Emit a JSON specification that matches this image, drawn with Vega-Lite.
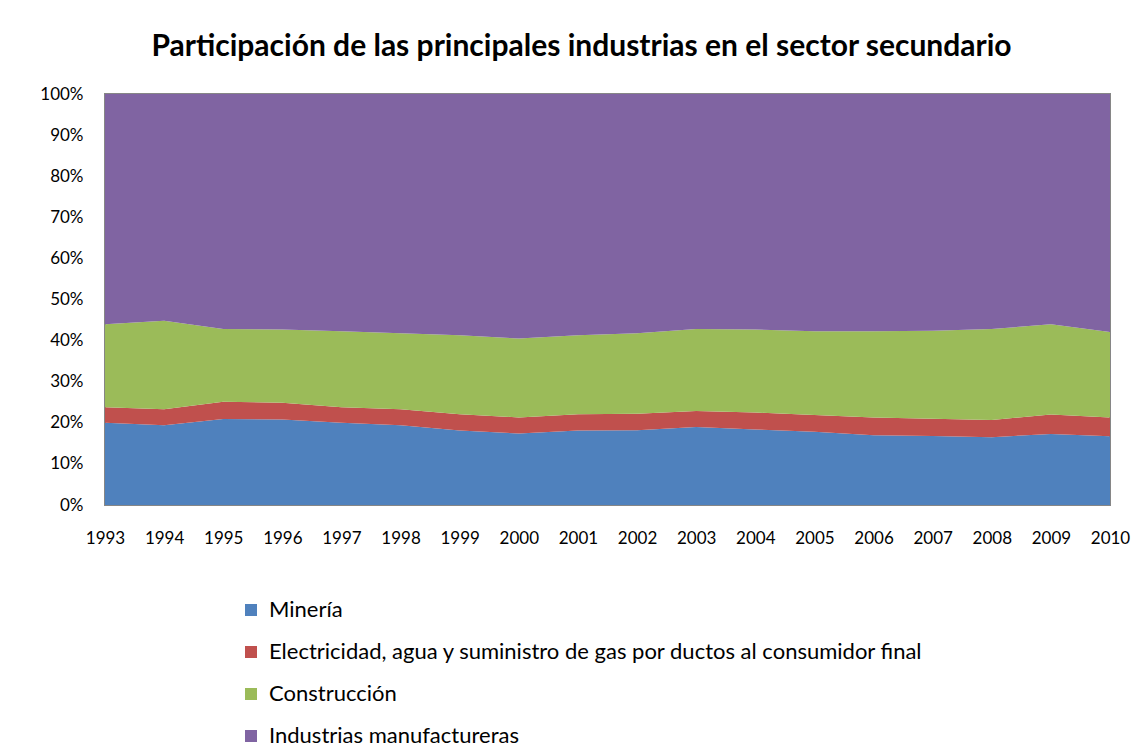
{
  "$schema": "https://vega.github.io/schema/vega-lite/v6.json",
  "autosize": {"type": "none"},
  "width": 1005,
  "height": 411,
  "padding": {"left": 105, "top": 94, "right": 32, "bottom": 247},
  "background": "white",
  "title": {
    "text": "Participación de las principales industrias en el sector secundario",
    "font": "Lato",
    "fontSize": 30,
    "fontWeight": "bold",
    "color": "#000000",
    "anchor": "middle",
    "dx": -26,
    "offset": 23
  },
  "config": {
    "view": {"stroke": "#868686", "strokeWidth": 2},
    "font": "Lato"
  },
  "data": {
    "values": [
      {"year": 1993, "sector": "Minería", "orden": 1, "valor": 20.0},
      {"year": 1993, "sector": "Electricidad, agua y suministro de gas por ductos al consumidor final", "orden": 2, "valor": 3.8},
      {"year": 1993, "sector": "Construcción", "orden": 3, "valor": 20.2},
      {"year": 1993, "sector": "Industrias manufactureras", "orden": 4, "valor": 56.0},
      {"year": 1994, "sector": "Minería", "orden": 1, "valor": 19.4},
      {"year": 1994, "sector": "Electricidad, agua y suministro de gas por ductos al consumidor final", "orden": 2, "valor": 3.9},
      {"year": 1994, "sector": "Construcción", "orden": 3, "valor": 21.5},
      {"year": 1994, "sector": "Industrias manufactureras", "orden": 4, "valor": 55.2},
      {"year": 1995, "sector": "Minería", "orden": 1, "valor": 20.9},
      {"year": 1995, "sector": "Electricidad, agua y suministro de gas por ductos al consumidor final", "orden": 2, "valor": 4.2},
      {"year": 1995, "sector": "Construcción", "orden": 3, "valor": 17.7},
      {"year": 1995, "sector": "Industrias manufactureras", "orden": 4, "valor": 57.2},
      {"year": 1996, "sector": "Minería", "orden": 1, "valor": 20.8},
      {"year": 1996, "sector": "Electricidad, agua y suministro de gas por ductos al consumidor final", "orden": 2, "valor": 4.1},
      {"year": 1996, "sector": "Construcción", "orden": 3, "valor": 17.8},
      {"year": 1996, "sector": "Industrias manufactureras", "orden": 4, "valor": 57.3},
      {"year": 1997, "sector": "Minería", "orden": 1, "valor": 20.0},
      {"year": 1997, "sector": "Electricidad, agua y suministro de gas por ductos al consumidor final", "orden": 2, "valor": 3.8},
      {"year": 1997, "sector": "Construcción", "orden": 3, "valor": 18.5},
      {"year": 1997, "sector": "Industrias manufactureras", "orden": 4, "valor": 57.7},
      {"year": 1998, "sector": "Minería", "orden": 1, "valor": 19.4},
      {"year": 1998, "sector": "Electricidad, agua y suministro de gas por ductos al consumidor final", "orden": 2, "valor": 3.9},
      {"year": 1998, "sector": "Construcción", "orden": 3, "valor": 18.5},
      {"year": 1998, "sector": "Industrias manufactureras", "orden": 4, "valor": 58.2},
      {"year": 1999, "sector": "Minería", "orden": 1, "valor": 18.1},
      {"year": 1999, "sector": "Electricidad, agua y suministro de gas por ductos al consumidor final", "orden": 2, "valor": 4.0},
      {"year": 1999, "sector": "Construcción", "orden": 3, "valor": 19.2},
      {"year": 1999, "sector": "Industrias manufactureras", "orden": 4, "valor": 58.7},
      {"year": 2000, "sector": "Minería", "orden": 1, "valor": 17.4},
      {"year": 2000, "sector": "Electricidad, agua y suministro de gas por ductos al consumidor final", "orden": 2, "valor": 3.9},
      {"year": 2000, "sector": "Construcción", "orden": 3, "valor": 19.2},
      {"year": 2000, "sector": "Industrias manufactureras", "orden": 4, "valor": 59.5},
      {"year": 2001, "sector": "Minería", "orden": 1, "valor": 18.1},
      {"year": 2001, "sector": "Electricidad, agua y suministro de gas por ductos al consumidor final", "orden": 2, "valor": 4.0},
      {"year": 2001, "sector": "Construcción", "orden": 3, "valor": 19.2},
      {"year": 2001, "sector": "Industrias manufactureras", "orden": 4, "valor": 58.7},
      {"year": 2002, "sector": "Minería", "orden": 1, "valor": 18.2},
      {"year": 2002, "sector": "Electricidad, agua y suministro de gas por ductos al consumidor final", "orden": 2, "valor": 4.0},
      {"year": 2002, "sector": "Construcción", "orden": 3, "valor": 19.6},
      {"year": 2002, "sector": "Industrias manufactureras", "orden": 4, "valor": 58.2},
      {"year": 2003, "sector": "Minería", "orden": 1, "valor": 19.0},
      {"year": 2003, "sector": "Electricidad, agua y suministro de gas por ductos al consumidor final", "orden": 2, "valor": 3.9},
      {"year": 2003, "sector": "Construcción", "orden": 3, "valor": 19.9},
      {"year": 2003, "sector": "Industrias manufactureras", "orden": 4, "valor": 57.2},
      {"year": 2004, "sector": "Minería", "orden": 1, "valor": 18.4},
      {"year": 2004, "sector": "Electricidad, agua y suministro de gas por ductos al consumidor final", "orden": 2, "valor": 4.1},
      {"year": 2004, "sector": "Construcción", "orden": 3, "valor": 20.2},
      {"year": 2004, "sector": "Industrias manufactureras", "orden": 4, "valor": 57.3},
      {"year": 2005, "sector": "Minería", "orden": 1, "valor": 17.8},
      {"year": 2005, "sector": "Electricidad, agua y suministro de gas por ductos al consumidor final", "orden": 2, "valor": 4.1},
      {"year": 2005, "sector": "Construcción", "orden": 3, "valor": 20.4},
      {"year": 2005, "sector": "Industrias manufactureras", "orden": 4, "valor": 57.7},
      {"year": 2006, "sector": "Minería", "orden": 1, "valor": 17.0},
      {"year": 2006, "sector": "Electricidad, agua y suministro de gas por ductos al consumidor final", "orden": 2, "valor": 4.3},
      {"year": 2006, "sector": "Construcción", "orden": 3, "valor": 21.0},
      {"year": 2006, "sector": "Industrias manufactureras", "orden": 4, "valor": 57.7},
      {"year": 2007, "sector": "Minería", "orden": 1, "valor": 16.8},
      {"year": 2007, "sector": "Electricidad, agua y suministro de gas por ductos al consumidor final", "orden": 2, "valor": 4.2},
      {"year": 2007, "sector": "Construcción", "orden": 3, "valor": 21.4},
      {"year": 2007, "sector": "Industrias manufactureras", "orden": 4, "valor": 57.6},
      {"year": 2008, "sector": "Minería", "orden": 1, "valor": 16.5},
      {"year": 2008, "sector": "Electricidad, agua y suministro de gas por ductos al consumidor final", "orden": 2, "valor": 4.2},
      {"year": 2008, "sector": "Construcción", "orden": 3, "valor": 22.1},
      {"year": 2008, "sector": "Industrias manufactureras", "orden": 4, "valor": 57.2},
      {"year": 2009, "sector": "Minería", "orden": 1, "valor": 17.3},
      {"year": 2009, "sector": "Electricidad, agua y suministro de gas por ductos al consumidor final", "orden": 2, "valor": 4.7},
      {"year": 2009, "sector": "Construcción", "orden": 3, "valor": 22.0},
      {"year": 2009, "sector": "Industrias manufactureras", "orden": 4, "valor": 56.0},
      {"year": 2010, "sector": "Minería", "orden": 1, "valor": 16.7},
      {"year": 2010, "sector": "Electricidad, agua y suministro de gas por ductos al consumidor final", "orden": 2, "valor": 4.6},
      {"year": 2010, "sector": "Construcción", "orden": 3, "valor": 20.8},
      {"year": 2010, "sector": "Industrias manufactureras", "orden": 4, "valor": 57.9}
    ]
  },
  "mark": {"type": "area", "interpolate": "linear"},
  "encoding": {
    "x": {
      "field": "year",
      "type": "quantitative",
      "scale": {"domain": [1993, 2010], "nice": false, "zero": false},
      "axis": {
        "title": null,
        "values": [1993, 1994, 1995, 1996, 1997, 1998, 1999, 2000, 2001, 2002, 2003, 2004, 2005, 2006, 2007, 2008, 2009, 2010],
        "format": "d",
        "grid": false,
        "ticks": false,
        "domain": false,
        "labelFont": "Lato",
        "labelFontSize": 17,
        "labelColor": "#000000",
        "labelPadding": 25,
        "labelOverlap": false,
        "labelFlush": false
      }
    },
    "y": {
      "field": "valor",
      "type": "quantitative",
      "stack": "normalize",
      "scale": {"domain": [0, 1]},
      "axis": {
        "title": null,
        "values": [0, 0.1, 0.2, 0.3, 0.4, 0.5, 0.6, 0.7, 0.8, 0.9, 1],
        "format": ".0%",
        "grid": false,
        "ticks": false,
        "domain": false,
        "labelFont": "Lato",
        "labelFontSize": 17,
        "labelColor": "#000000",
        "labelPadding": 22,
        "labelOverlap": false,
        "labelFlush": false
      }
    },
    "color": {
      "field": "sector",
      "type": "nominal",
      "scale": {
        "domain": ["Minería", "Electricidad, agua y suministro de gas por ductos al consumidor final", "Construcción", "Industrias manufactureras"],
        "range": ["#4F81BD", "#C0504D", "#9BBB59", "#8064A2"]
      },
      "legend": {
        "title": null,
        "orient": "none",
        "legendX": 135,
        "legendY": 505,
        "direction": "vertical",
        "symbolType": "square",
        "symbolSize": 144,
        "symbolStrokeWidth": 0,
        "labelFont": "Lato",
        "labelFontSize": 22,
        "labelColor": "#000000",
        "labelOffset": 7,
        "labelLimit": 900,
        "rowPadding": 20
      }
    },
    "order": {"field": "orden", "type": "quantitative"}
  }
}
